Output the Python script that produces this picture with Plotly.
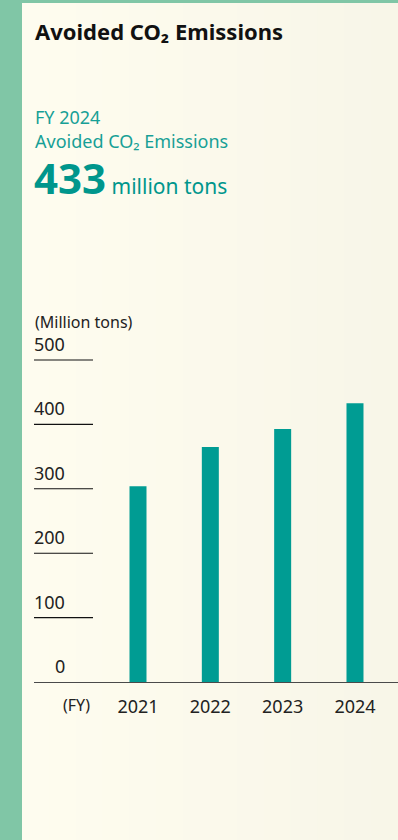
import plotly.graph_objects as go

# ---- data ----
years = ["2021", "2022", "2023", "2024"]
avoided_co2 = [304, 365, 393, 433]          # million tons
y_ticks = [0, 100, 200, 300, 400, 500]
y_tick_labels = ["0", "100", "200", "300", "400", "500"]
kpi_year = "FY 2024"
kpi_value = "433"

# ---- geometry helpers (pixel -> paper) ----
W, H = 398, 840
L, R, T, B = 34, 0, 350, 158
PW, PH = W - L - R, H - T - B
PX_PER_UNIT = 322 / 500          # 500 gridline sits 322 px above the baseline
Y_MAX = PH / PX_PER_UNIT


def px_x(px):
    return (px - L) / PW


def px_y(py):
    return (H - B - py) / PH


FONT = "Noto Sans"
TEAL = "#009C93"
TEAL_TXT = "#17A096"
GREEN = "#80C6A6"
DARK = "#222222"

xs = list(range(len(years)))

fig = go.Figure()
fig.add_trace(go.Bar(
    x=xs, y=avoided_co2, width=0.235,
    marker=dict(color=TEAL, line=dict(width=0)),
    hoverinfo="skip",
))

shapes = []
# cream background with subtle horizontal gradient
n = 14
c0, c1 = (254, 252, 239), (248, 246, 232)
for i in range(n):
    t = i / (n - 1)
    col = "rgb(%d,%d,%d)" % tuple(round(a + (b - a) * t) for a, b in zip(c0, c1))
    x0p = 22 + (W - 22) * i / n
    x1p = 22 + (W - 22) * (i + 1) / n + 1
    shapes.append(dict(type="rect", xref="paper", yref="paper",
                       x0=px_x(x0p), x1=px_x(x1p), y0=px_y(H + 2), y1=px_y(3),
                       fillcolor=col, line=dict(width=0), layer="below"))
# short gridlines
for v in y_ticks[1:]:
    shapes.append(dict(type="line", xref="paper", yref="y",
                       x0=0, x1=px_x(93), y0=v, y1=v,
                       line=dict(color="#111111", width=1.1), layer="below"))

annotations = []
# y tick labels (right aligned, sitting above the line)
for v, lab in zip(y_ticks, y_tick_labels):
    annotations.append(dict(xref="paper", yref="y", x=px_x(67), y=v,
                            xanchor="right", yanchor="middle", yshift=16,
                            text=lab, showarrow=False,
                            font=dict(family=FONT, size=18, color=DARK)))
annotations += [
    dict(xref="paper", yref="paper", x=px_x(33), y=px_y(30.5),
         xanchor="left", yanchor="middle", showarrow=False,
         text="<b>Avoided CO₂ Emissions</b>",
         font=dict(family=FONT, size=22, color="#111111")),
    dict(xref="paper", yref="paper", x=px_x(33), y=px_y(117),
         xanchor="left", yanchor="middle", showarrow=False,
         text=kpi_year, font=dict(family=FONT, size=18, color=TEAL_TXT)),
    dict(xref="paper", yref="paper", x=px_x(33), y=px_y(141),
         xanchor="left", yanchor="middle", showarrow=False,
         text="Avoided CO₂ Emissions", font=dict(family=FONT, size=18, color=TEAL_TXT)),
    dict(xref="paper", yref="paper", x=px_x(32), y=px_y(208),
         xanchor="left", yanchor="bottom", showarrow=False,
         text="<b>%s</b><span style='font-size:21px'> million tons</span>" % kpi_value,
         font=dict(family=FONT, size=42, color="#00968C")),
    dict(xref="paper", yref="paper", x=px_x(33), y=px_y(322),
         xanchor="left", yanchor="middle", showarrow=False,
         text="(Million tons)", font=dict(family=FONT, size=16, color=DARK)),
    dict(xref="paper", yref="paper", x=px_x(92), y=px_y(705),
         xanchor="right", yanchor="middle", showarrow=False,
         text="(FY)", font=dict(family=FONT, size=16, color=DARK)),
]
# left & top green strips
shapes.append(dict(type="rect", xref="paper", yref="paper",
                   x0=px_x(-2), x1=px_x(22), y0=px_y(H + 2), y1=px_y(-2),
                   fillcolor=GREEN, line=dict(width=0), layer="above"))
shapes.append(dict(type="rect", xref="paper", yref="paper",
                   x0=px_x(-2), x1=px_x(W + 2), y0=px_y(3), y1=px_y(-2),
                   fillcolor=GREEN, line=dict(width=0), layer="above"))

step = 72.33
fig.update_layout(
    width=W, height=H,
    margin=dict(l=L, r=R, t=T, b=B, pad=0),
    paper_bgcolor=GREEN,
    plot_bgcolor="rgba(0,0,0,0)",
    showlegend=False,
    shapes=shapes,
    annotations=annotations,
    xaxis=dict(
        range=[(34 - 138) / step, (398 - 138) / step],
        tickvals=xs, ticktext=years,
        showgrid=False, zeroline=False,
        showline=True, linecolor="#4a4a4a", linewidth=1,
        ticks="", ticklabelstandoff=8,
        tickfont=dict(family=FONT, size=18, color=DARK),
        fixedrange=True,
    ),
    yaxis=dict(
        range=[0, Y_MAX], showgrid=False, zeroline=False,
        showticklabels=False, showline=False, fixedrange=True,
    ),
)

fig.write_html(
    "out.html",
    config={"displayModeBar": False},
    post_script="document.body.style.margin='0';document.body.style.overflow='hidden';",
)
